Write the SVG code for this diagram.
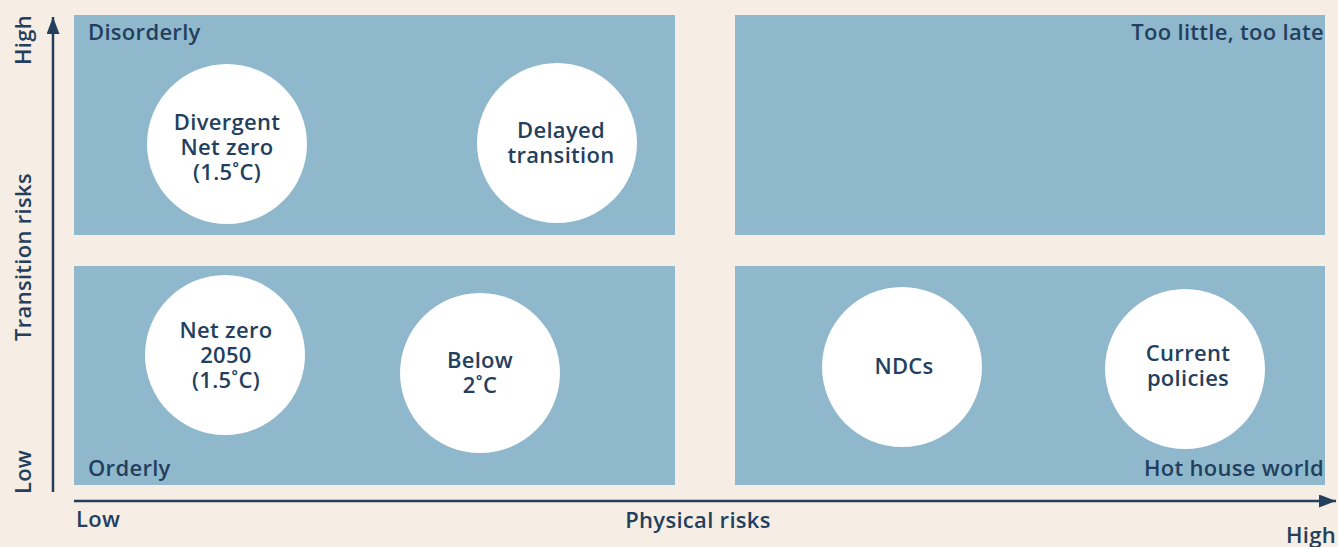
<svg xmlns="http://www.w3.org/2000/svg" width="1338" height="547" viewBox="0 0 1338 547">
<defs>
<style>
.q{fill:#8fb8cc}
.c{fill:#ffffff}
.t{font-family:"Open Sans",Lato,"Liberation Sans",sans-serif;font-weight:600;font-size:22px;letter-spacing:0.3px;fill:#243f5e}
.m{text-anchor:middle}
.e{text-anchor:end}
.ax{stroke:#243f5e;stroke-width:2.5;fill:none}
</style>
<marker id="ah" viewBox="0 0 17 13" refX="17" refY="6.5" markerWidth="17" markerHeight="13" orient="auto" markerUnits="userSpaceOnUse">
<path d="M0,0 L17,6.5 L0,13 z" fill="#243f5e"/>
</marker>
</defs>
<rect width="1338" height="547" fill="#f6eee4"/>
<g id="quadrants">
<rect class="q" x="74" y="15" width="601" height="220"/>
<rect class="q" x="735" y="15" width="590" height="220"/>
<rect class="q" x="74" y="266" width="601" height="219"/>
<rect class="q" x="735" y="266" width="590" height="219"/>
</g>
<g id="connectors">
<line class="ax" x1="53" y1="492" x2="53" y2="17" marker-end="url(#ah)"/>
<line class="ax" x1="74" y1="501" x2="1336" y2="501" marker-end="url(#ah)"/>
</g>
<g id="labels">
<text class="t" x="88" y="40">Disorderly</text>
<text class="t e" x="1324" y="40">Too little, too late</text>
<text class="t" x="88" y="476">Orderly</text>
<text class="t e" x="1324" y="476">Hot house world</text>
<text class="t" x="76" y="527">Low</text>
<text class="t m" x="698" y="528">Physical risks</text>
<text class="t e" x="1336" y="543">High</text>
<text class="t m" transform="translate(31,40) rotate(-90)">High</text>
<text class="t m" transform="translate(31,257) rotate(-90)">Transition risks</text>
<text class="t m" transform="translate(31,472) rotate(-90)">Low</text>
</g>
<g id="node-divergent">
<circle class="c" cx="227" cy="144" r="80"/>
<text class="t m"><tspan x="227" y="130">Divergent</tspan><tspan x="227" y="155">Net zero</tspan><tspan x="227" y="180">(1.5˚C)</tspan></text>
</g>
<g id="node-delayed">
<circle class="c" cx="557" cy="143" r="80"/>
<text class="t m"><tspan x="561" y="138">Delayed</tspan><tspan x="561" y="163">transition</tspan></text>
</g>
<g id="node-netzero2050">
<circle class="c" cx="225" cy="355" r="80"/>
<text class="t m"><tspan x="226" y="338">Net zero</tspan><tspan x="226" y="363">2050</tspan><tspan x="226" y="388">(1.5˚C)</tspan></text>
</g>
<g id="node-below2">
<circle class="c" cx="480" cy="373" r="80"/>
<text class="t m"><tspan x="480" y="368">Below</tspan><tspan x="480" y="393">2˚C</tspan></text>
</g>
<g id="node-ndcs">
<circle class="c" cx="902" cy="367" r="80"/>
<text class="t m" x="904" y="374">NDCs</text>
</g>
<g id="node-current">
<circle class="c" cx="1185" cy="369" r="80"/>
<text class="t m"><tspan x="1188" y="361">Current</tspan><tspan x="1188" y="386">policies</tspan></text>
</g>
</svg>
